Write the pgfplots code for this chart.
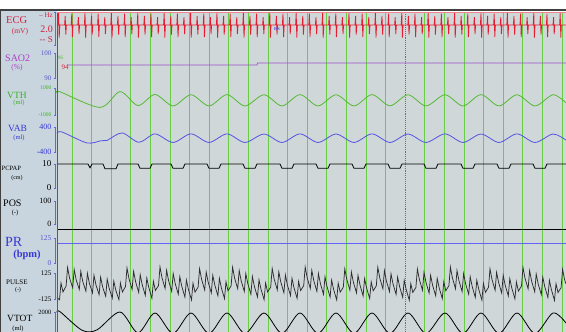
\documentclass[border=0pt]{standalone}
\usepackage{fontspec}
\setmainfont{Liberation Serif}
\usepackage{pgfplots}
\pgfplotsset{compat=1.18}
\definecolor{leftbg}{RGB}{200,213,222}
\definecolor{plotbg}{RGB}{208,215,217}
\definecolor{gridgreen}{RGB}{104,206,70}
\definecolor{ecgred}{RGB}{232,28,48}
\definecolor{saopurple}{RGB}{156,84,204}
\definecolor{vthgreen}{RGB}{84,186,52}
\definecolor{vabblue}{RGB}{84,84,226}
\definecolor{prblue}{RGB}{100,100,244}
\definecolor{brblue}{RGB}{100,100,220}
\definecolor{labred}{RGB}{214,30,60}
\definecolor{labpurple}{RGB}{170,64,196}
\definecolor{labgreen}{RGB}{56,176,32}
\definecolor{labblue}{RGB}{56,56,214}
\definecolor{tickblue}{RGB}{90,90,200}
\definecolor{pulsegray}{RGB}{45,45,45}
\definecolor{markline}{RGB}{100,120,90}
\newcommand{\fs}[1]{\fontsize{#1}{#1}\selectfont}
\newcommand{\bracket}{\draw[brblue, line width=0.9pt] ([xshift=-3.2pt]rel axis cs:0,1) -- ([xshift=-2pt]rel axis cs:0,1) -- ([xshift=-2pt]rel axis cs:0,0) -- ([xshift=-3.2pt]rel axis cs:0,0);}
\pgfplotsset{chan/.style={scale only axis, width=509pt, xmin=0, xmax=509, anchor=south west, clip=false,
  axis line style={draw=none}, major tick length=0pt, xtick=\empty,
  /pgf/number format/assume math mode=true,
  yticklabel style={xshift=-2pt, font=\fs{7}},
  every axis plot/.append style={line width=0.8pt}}}
\begin{document}
\begin{tikzpicture}
\useasboundingbox (0,0) rectangle (566pt,332pt);
\fill[white] (0,0) rectangle (566pt,332pt);
\fill[leftbg] (0,0) rectangle (57pt,322pt);
% frame with background and green grid
\begin{axis}[at={(57pt,0pt)}, anchor=south west, scale only axis, width=509pt, height=320pt,
  xmin=0, xmax=509, ymin=0, ymax=1, axis background/.style={fill=plotbg},
  axis line style={draw=none}, major tick length=0pt, ytick=\empty,
  xtick={15,34.6,54.2,73.8,93.4,113,132.6,152.2,171.8,191.4,211,230.6,250.2,269.8,289.4,309,328.6,367.8,387.4,407,426.6,446.2,465.8,485.4,505},
  xticklabels={}, xmajorgrids, major grid style={gridgreen, line width=1pt},
  extra x ticks={348.2}, extra x tick labels={}, extra x tick style={major grid style={markline, line width=0.9pt, densely dotted}}]
\addplot[draw=none] coordinates {(0,0) (509,1)};
\end{axis}
% ECG
\begin{axis}[chan, at={(57pt,287pt)}, height=33pt, ymin=-3.3333, ymax=2.1667, ytick=\empty]
\bracket
\addplot[ecgred] coordinates {(0,0)
(1,0)(1.6,2)(2.2,-2.1)(2.8,0) (7.6,0)(8.2,1.5)(8.8,-1.6)(9.4,0) (14.2,0)(14.8,1.9)(15.4,-2)(16,0) (20.8,0)(21.4,1.3)(22,-1.5)(22.6,0)
(27.4,0)(28,2)(28.6,-2.1)(29.2,0) (34,0)(34.6,1.5)(35.2,-1.6)(35.8,0) (40.6,0)(41.2,1.9)(41.8,-2)(42.4,0) (47.2,0)(47.8,1.3)(48.4,-1.5)(49,0)
(53.8,0)(54.4,2)(55,-2.1)(55.6,0) (60.4,0)(61,1.5)(61.6,-1.6)(62.2,0) (67,0)(67.6,1.9)(68.2,-2)(68.8,0) (73.6,0)(74.2,1.3)(74.8,-1.5)(75.4,0)
(80.2,0)(80.8,2)(81.4,-2.1)(82,0) (86.8,0)(87.4,1.5)(88,-1.6)(88.6,0) (93.4,0)(94,1.9)(94.6,-2)(95.2,0) (100,0)(100.6,1.3)(101.2,-1.5)(101.8,0)
(106.6,0)(107.2,2)(107.8,-2.1)(108.4,0) (113.2,0)(113.8,1.5)(114.4,-1.6)(115,0) (119.8,0)(120.4,1.9)(121,-2)(121.6,0) (126.4,0)(127,1.3)(127.6,-1.5)(128.2,0)
(133,0)(133.6,2)(134.2,-2.1)(134.8,0) (139.6,0)(140.2,1.5)(140.8,-1.6)(141.4,0) (146.2,0)(146.8,1.9)(147.4,-2)(148,0) (152.8,0)(153.4,1.3)(154,-1.5)(154.6,0)
(159.4,0)(160,2)(160.6,-2.1)(161.2,0) (166,0)(166.6,1.5)(167.2,-1.6)(167.8,0) (172.6,0)(173.2,1.9)(173.8,-2)(174.4,0) (179.2,0)(179.8,1.3)(180.4,-1.5)(181,0)
(185.8,0)(186.4,2)(187,-2.1)(187.6,0) (192.4,0)(193,1.5)(193.6,-1.6)(194.2,0) (199,0)(199.6,1.9)(200.2,-2)(200.8,0) (205.6,0)(206.2,1.3)(206.8,-1.5)(207.4,0)
(212.2,0)(212.8,2)(213.4,-2.1)(214,0) (218.8,0)(219.4,1.5)(220,-1.6)(220.6,0) (225.4,0)(226,1.9)(226.6,-2)(227.2,0) (232,0)(232.6,1.3)(233.2,-1.5)(233.8,0)
(238.6,0)(239.2,2)(239.8,-2.1)(240.4,0) (245.2,0)(245.8,1.5)(246.4,-1.6)(247,0) (251.8,0)(252.4,1.9)(253,-2)(253.6,0) (258.4,0)(259,1.3)(259.6,-1.5)(260.2,0)
(265,0)(265.6,2)(266.2,-2.1)(266.8,0) (271.6,0)(272.2,1.5)(272.8,-1.6)(273.4,0) (278.2,0)(278.8,1.9)(279.4,-2)(280,0) (284.8,0)(285.4,1.3)(286,-1.5)(286.6,0)
(291.4,0)(292,2)(292.6,-2.1)(293.2,0) (298,0)(298.6,1.5)(299.2,-1.6)(299.8,0) (304.6,0)(305.2,1.9)(305.8,-2)(306.4,0) (311.2,0)(311.8,1.3)(312.4,-1.5)(313,0)
(317.8,0)(318.4,2)(319,-2.1)(319.6,0) (324.4,0)(325,1.5)(325.6,-1.6)(326.2,0) (331,0)(331.6,1.9)(332.2,-2)(332.8,0) (337.6,0)(338.2,1.3)(338.8,-1.5)(339.4,0)
(344.2,0)(344.8,2)(345.4,-2.1)(346,0) (350.8,0)(351.4,1.5)(352,-1.6)(352.6,0) (357.4,0)(358,1.9)(358.6,-2)(359.2,0) (364,0)(364.6,1.3)(365.2,-1.5)(365.8,0)
(370.6,0)(371.2,2)(371.8,-2.1)(372.4,0) (377.2,0)(377.8,1.5)(378.4,-1.6)(379,0) (383.8,0)(384.4,1.9)(385,-2)(385.6,0) (390.4,0)(391,1.3)(391.6,-1.5)(392.2,0)
(397,0)(397.6,2)(398.2,-2.1)(398.8,0) (403.6,0)(404.2,1.5)(404.8,-1.6)(405.4,0) (410.2,0)(410.8,1.9)(411.4,-2)(412,0) (416.8,0)(417.4,1.3)(418,-1.5)(418.6,0)
(423.4,0)(424,2)(424.6,-2.1)(425.2,0) (430,0)(430.6,1.5)(431.2,-1.6)(431.8,0) (436.6,0)(437.2,1.9)(437.8,-2)(438.4,0) (443.2,0)(443.8,1.3)(444.4,-1.5)(445,0)
(449.8,0)(450.4,2)(451,-2.1)(451.6,0) (456.4,0)(457,1.5)(457.6,-1.6)(458.2,0) (463,0)(463.6,1.9)(464.2,-2)(464.8,0) (469.6,0)(470.2,1.3)(470.8,-1.5)(471.4,0)
(476.2,0)(476.8,2)(477.4,-2.1)(478,0) (482.8,0)(483.4,1.5)(484,-1.6)(484.6,0) (489.4,0)(490,1.9)(490.6,-2)(491.2,0) (496,0)(496.6,1.3)(497.2,-1.5)(497.8,0)
(502.6,0)(503.2,2)(503.8,-2.1)(504.4,0) (509,0)};
\end{axis}
% SAO2
\begin{axis}[chan, at={(57pt,254pt)}, height=25pt, ymin=90, ymax=100, ytick={90,100}, yticklabels={90,100}, yticklabel style={text=tickblue}]
\bracket
\addplot[saopurple] coordinates {(10,95.2) (200,95.2) (200.5,96) (509,96)};
\end{axis}
% VTH
\begin{axis}[chan, at={(57pt,217pt)}, height=27pt, ymin=-1000, ymax=1000, ytick={-1000,1000}, yticklabels={-1000,1000}, yticklabel style={text=labgreen, font=\fs{5.5}}]
\bracket
\addplot[vthgreen, smooth] coordinates {(0,650) (3,720) (43,-440) (63,730) (81,-300) (98,520) (116,-330) (134,500) (152,-330) (170,510) (188,-330) (207,500) (225,-330) (243,510) (261,-330) (279,500) (297,-330) (315,510) (333,-320) (351,500) (369,-330) (388,500) (406,-330) (424,510) (442,-330) (460,500) (478,-330) (496,500) (509,-100)};
\end{axis}
% VAB
\begin{axis}[chan, at={(57pt,180pt)}, height=25pt, ymin=-400, ymax=400, ytick={-400,400}, yticklabels={-400,400}, yticklabel style={text=labblue, font=\fs{8}}]
\bracket
\addplot[vabblue, smooth] coordinates {(0,200) (5,240) (30,-110) (44,-40) (50,-30) (65,210) (82,-90) (98,180) (116,-95) (134,180) (152,-95) (170,180) (188,-95) (207,175) (225,-95) (243,180) (261,-95) (279,175) (297,-95) (315,180) (333,-95) (351,175) (369,-95) (388,180) (406,-95) (424,175) (442,-95) (460,180) (478,-95) (496,175) (509,-20)};
\end{axis}
% PCPAP
\begin{axis}[chan, at={(57pt,144pt)}, height=24pt, ymin=0, ymax=10, ytick={0,10}, yticklabels={0,10}, yticklabel style={text=black, font=\fs{9}}]
\bracket
\addplot[black] coordinates {(0,10)(31,10)(33,8.4)(35,10)(46,10)(48,8)(59,8)(61,10)
(81,10)(83,8.2)(93,8.2)(95,10) (114,10)(116,8.2)(126,8.2)(128,10)
(150,10)(152,8.2)(162,8.2)(164,10) (186,10)(188,8.2)(198,8.2)(200,10)
(223,10)(225,8.2)(235,8.2)(237,10) (259,10)(261,8.2)(271,8.2)(273,10)
(295,10)(297,8.2)(307,8.2)(309,10) (331,10)(333,8.2)(343,8.2)(345,10)
(367,10)(369,8.2)(379,8.2)(381,10) (404,10)(406,8.2)(416,8.2)(418,10)
(440,10)(442,8.2)(452,8.2)(454,10) (476,10)(478,8.2)(488,8.2)(490,10) (509,10)};
\end{axis}
% POS
\begin{axis}[chan, at={(57pt,108pt)}, height=23pt, ymin=0, ymax=100, ytick={0,100}, yticklabels={0,100}, yticklabel style={text=black, font=\fs{8}}]
\bracket
\addplot[black] coordinates {(0,-22) (509,-22)};
\end{axis}
% PR
\begin{axis}[chan, at={(57pt,69pt)}, height=25pt, ymin=0, ymax=125, ytick={0,125}, yticklabels={0,125}, yticklabel style={text=tickblue, font=\fs{7.5}}]
\bracket
\addplot[prblue] coordinates {(0,100) (509,100)};
\end{axis}
% PULSE
\begin{axis}[chan, at={(57pt,33pt)}, height=26pt, ymin=-125, ymax=125, ytick={-125,125}, yticklabels={-125,125}, yticklabel style={text=black, font=\fs{7}}]
\bracket
\addplot[pulsegray, line width=0.75pt] coordinates {(0,-110)
(2.5,-132)(4,29)(6,-57) (9.1,0)(10.6,178)(12.6,75) (15.7,-17)(17.2,159)(19.2,58) (22.3,-33)(23.8,141)(25.8,42)
(28.9,-50)(30.4,122)(32.4,25) (35.5,-66)(37,103)(39,9) (42.1,-83)(43.6,85)(45.6,-8) (48.7,-99)(50.2,66)(52.2,-24)
(55.3,-116)(56.8,47)(58.8,-41) (61.9,-132)(63.4,29)(65.4,-57) (68.5,-5)(70,173)(72,70) (75.1,-33)(76.6,141)(78.6,42)
(81.7,-62)(83.2,108)(85.2,13) (88.3,-90)(89.8,76)(91.8,-15) (94.9,-118)(96.4,45)(98.4,-43) (101.5,4)(103,183)(105,79)
(108.1,-24)(109.6,151)(111.6,51) (114.7,-52)(116.2,120)(118.2,23) (121.3,-79)(122.8,90)(124.8,-4) (127.9,-107)(129.4,57)(131.4,-32)
(134.5,-134)(136,27)(138,-59) (141.1,-11)(142.6,166)(144.6,64) (147.7,-39)(149.2,134)(151.2,36) (154.3,-66)(155.8,103)(157.8,9)
(160.9,-94)(162.4,73)(164.4,-19) (167.5,-121)(169,40)(171,-46) (174.1,1)(175.6,180)(177.6,76) (180.7,-26)(182.2,149)(184.2,49)
(187.3,-52)(188.8,120)(190.8,23) (193.9,-79)(195.4,90)(197.4,-4) (200.5,-106)(202,59)(204,-31) (207.1,-132)(208.6,29)(210.6,-57)
(213.7,-10)(215.2,168)(217.2,65) (220.3,-37)(221.8,137)(223.8,38) (226.9,-65)(228.4,105)(230.4,10) (233.5,-92)(235,74)(237,-17)
(240.1,-119)(241.6,44)(243.6,-44) (246.7,3)(248.2,182)(250.2,78) (253.3,-24)(254.8,151)(256.8,51) (259.9,-52)(261.4,120)(263.4,23)
(266.5,-80)(268,88)(270,-5) (273.1,-107)(274.6,57)(276.6,-32) (279.7,-134)(281.2,27)(283.2,-59) (286.3,-12)(287.8,165)(289.8,63)
(292.9,-39)(294.4,134)(296.4,36) (299.5,-66)(301,103)(303,9) (306.1,-95)(307.6,71)(309.6,-20) (312.7,-121)(314.2,40)(316.2,-46)
(319.3,1)(320.8,180)(322.8,76) (325.9,-27)(327.4,148)(329.4,48) (332.5,-54)(334,117)(336,21) (339.1,-81)(340.6,86)(342.6,-6)
(345.7,-110)(347.2,54)(349.2,-35) (352.3,-137)(353.8,23)(355.8,-62) (358.9,-14)(360.4,163)(362.4,61) (365.5,-41)(367,132)(369,34)
(372.1,-68)(373.6,102)(375.6,7) (378.7,-94)(380.2,73)(382.2,-19) (385.3,-121)(386.8,42)(388.8,-46) (391.9,3)(393.4,182)(395.4,78)
(398.5,-26)(400,149)(402,49) (405.1,-53)(406.6,119)(408.6,22) (411.7,-80)(413.2,88)(415.2,-5) (418.3,-109)(419.8,56)(421.8,-34)
(424.9,-136)(426.4,25)(428.4,-61) (431.5,-12)(433,165)(435,63) (438.1,-41)(439.6,132)(441.6,34) (444.7,-68)(446.2,102)(448.2,7)
(451.3,-95)(452.8,71)(454.8,-20) (457.9,-124)(459.4,39)(461.4,-49) (464.5,0)(466,178)(468,75) (471.1,-27)(472.6,148)(474.6,48)
(477.7,-56)(479.2,115)(481.2,19) (484.3,-83)(485.8,85)(487.8,-8) (490.9,-110)(492.4,54)(494.4,-35) (497.5,-138)(499,22)(501,-63)
(504.1,-16)(505.6,161)(507.6,59) (509,20)};
\end{axis}
% VTOT
\begin{axis}[chan, at={(57pt,-6pt)}, height=26pt, ymin=-2000, ymax=2000, ytick={2000}, yticklabels={2000}, yticklabel style={text=black, font=\fs{6.5}}]
\bracket
\addplot[black, smooth] coordinates {(0,1950) (3,2050) (25,-800) (40,-750) (63,2000) (81,-1200) (98,1850) (116,-1300) (134,1850) (152,-1300) (170,1850) (188,-1300) (207,1850) (225,-1300) (243,1850) (261,-1300) (279,1850) (297,-1300) (315,1850) (333,-1300) (351,1850) (369,-1300) (388,1850) (406,-1300) (424,1850) (442,-1300) (460,1850) (478,-1300) (496,1850) (509,300)};
\end{axis}
% borders
\draw[ecgred, line width=1pt] (57pt,0pt) -- (57pt,320pt);
\draw[ecgred!55, line width=0.8pt] (57pt,320pt) -- (566pt,320pt);
\draw[black!75, line width=1.4pt] (0pt,322pt) -- (566pt,322pt);
\draw[black!75, line width=1pt] (0.5pt,0pt) -- (0.5pt,322pt);
% labels
\node[anchor=west, text=labred, font=\fs{10.5}, inner sep=0] at (6pt,312pt) {ECG};
\node[text=labred, font=\fs{7.5}, inner sep=0] at (20pt,300pt) {(mV)};
\node[anchor=east, text=labred, font=\fs{7}, inner sep=0] at (53pt,317pt) {– Hz};
\node[anchor=east, text=labred, font=\fs{10}, inner sep=0] at (53pt,303pt) {2.0};
\node[anchor=east, text=labred, font=\fs{9}, inner sep=0] at (53pt,292pt) {-{}- S};
\node[text=vabblue, font=\fs{4.5}\bfseries, inner sep=0] at (277pt,303pt) {RS};
\node[anchor=west, text=labpurple, font=\fs{10}, inner sep=0] at (5pt,274pt) {SAO2};
\node[text=labpurple, font=\fs{7.5}, inner sep=0] at (17pt,264pt) {(\%)};
\node[anchor=west, text=labgreen, font=\fs{5}, inner sep=0] at (58pt,274pt) {95};
\node[text=labred, font=\fs{7}, inner sep=0] at (65pt,265pt) {94};
\node[anchor=west, text=labgreen, font=\fs{9.5}, inner sep=0] at (7pt,237pt) {VTH};
\node[text=labgreen, font=\fs{6.5}, inner sep=0] at (19pt,229pt) {(ml)};
\node[anchor=west, text=labblue, font=\fs{9.5}, inner sep=0] at (8pt,204pt) {VAB};
\node[text=labblue, font=\fs{6.5}, inner sep=0] at (19pt,194pt) {(ml)};
\node[anchor=west, text=black, font=\fs{6.5}, inner sep=0] at (1.5pt,164pt) {PCPAP};
\node[text=black, font=\fs{6}, inner sep=0] at (17pt,154pt) {(cm)};
\node[anchor=west, text=black, font=\fs{10}, inner sep=0] at (3pt,129pt) {POS};
\node[text=black, font=\fs{6.5}, inner sep=0] at (15pt,119pt) {(-)};
\node[anchor=west, text=labblue, font=\fs{14}, inner sep=0] at (5pt,90pt) {PR};
\node[text=labblue, font=\fs{10.5}\bfseries, inner sep=0] at (27pt,77pt) {(bpm)};
\node[anchor=west, text=black, font=\fs{7}, inner sep=0] at (6pt,50pt) {PULSE};
\node[text=black, font=\fs{6}, inner sep=0] at (18pt,42pt) {(-)};
\node[anchor=west, text=black, font=\fs{9.5}, inner sep=0] at (7pt,14pt) {VTOT};
\node[text=black, font=\fs{6.5}, inner sep=0] at (18pt,3pt) {(ml)};
\end{tikzpicture}
\end{document}
